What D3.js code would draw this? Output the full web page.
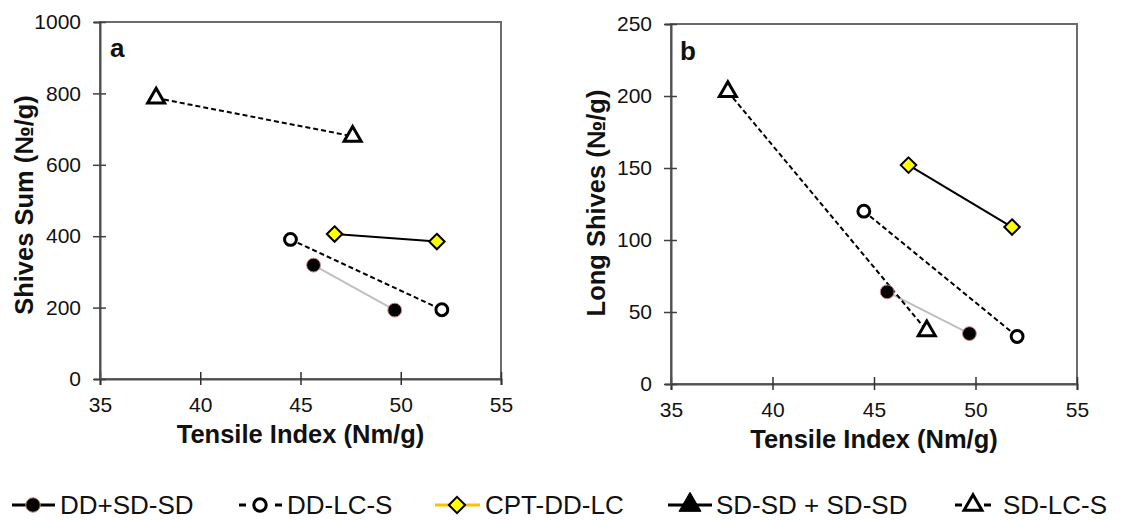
<!DOCTYPE html>
<html>
<head>
<meta charset="utf-8">
<script src="https://cdn.jsdelivr.net/npm/d3@7/dist/d3.min.js"></script>
<style>
  html, body { margin: 0; padding: 0; background: #fff; }
  svg { display: block; font-family: "Liberation Sans", Arial, sans-serif; }
</style>
</head>
<body>
<svg id="chart" width="1127" height="520"></svg>
<script>
// ---------- data ----------
const seriesNames = ["DD+SD-SD", "DD-LC-S", "CPT-DD-LC", "SD-SD + SD-SD", "SD-LC-S"];
const xTicks = [35, 40, 45, 50, 55];
const yTicksA = [0, 200, 400, 600, 800, 1000];
const yTicksB = [0, 50, 100, 150, 200, 250];

const tensileDDSD = [45.65, 49.7];
const tensileDDLCS = [44.5, 52.05];
const tensileCPT = [46.7, 51.8];
const tensileSDSD = [];
const tensileSDLCS = [37.8, 47.6];

const shivesSumDDSD = [319, 193];
const shivesSumDDLCS = [391, 194];
const shivesSumCPT = [406, 385];
const shivesSumSDSD = [];
const shivesSumSDLCS = [787, 680];

const longShivesDDSD = [64, 35];
const longShivesDDLCS = [120, 33];
const longShivesCPT = [152, 109];
const longShivesSDSD = [];
const longShivesSDLCS = [203, 37];

// ---------- styles ----------
const diamondSym = {
  draw(ctx, size) {
    const r = Math.sqrt(size / 2);
    ctx.moveTo(0, -r); ctx.lineTo(r, 0); ctx.lineTo(0, r); ctx.lineTo(-r, 0); ctx.closePath();
  }
};
const styles = [
  { line: "#bfbfbf", dash: null, sym: "circle", fill: "#000", stroke: "#c9837f", sw: 1, size: 150, legLine: "#000", legDash: false },
  { line: "#000", dash: "5,3", sym: "circle", fill: "#fff", stroke: "#000", sw: 3, size: 110, legLine: "#000", legDash: true },
  { line: "#000", dash: null, sym: "diamond", fill: "#ffff00", stroke: "#000", sw: 2, size: 120, legLine: "#ffc000", legDash: false },
  { line: "#000", dash: null, sym: "triangle", fill: "#000", stroke: "#000", sw: 1, size: 190, legLine: "#000", legDash: false },
  { line: "#000", dash: "5,3", sym: "triangle", fill: "#fff", stroke: "#000", sw: 3, size: 125, legLine: "#000", legDash: true }
];
const symMap = { circle: d3.symbolCircle, diamond: diamondSym, triangle: d3.symbolTriangle };

const svg = d3.select("#chart");
const FONT = "Liberation Sans, Arial, sans-serif";

function panel(cfg) {
  const { x0, x1, y0, y1, yMax, yTicks, ys, xs, letter, yTitle, letterPos, yTitleX, yTitleY } = cfg;
  const x = d3.scaleLinear().domain([35, 55]).range([x0, x1]);
  const y = d3.scaleLinear().domain([0, yMax]).range([y1, y0]);
  const g = svg.append("g");

  // frame
  g.append("rect").attr("x", x0).attr("y", y0).attr("width", x1 - x0).attr("height", y1 - y0)
    .attr("fill", "none").attr("stroke", "#6b6b6b").attr("stroke-width", 2);

  // x axis
  const xa = g.append("g").attr("transform", `translate(0,${y1})`)
    .call(d3.axisBottom(x).tickValues(xTicks).tickSize(6).tickFormat(d3.format("d")));
  xa.attr("font-family", FONT);
  xa.select(".domain").attr("stroke", "#505050").attr("stroke-width", 2);
  xa.selectAll(".tick line").attr("y1", -7).attr("y2", 6).attr("stroke", "#303030").attr("stroke-width", 1.5);
  xa.selectAll(".tick text").attr("font-size", 21).attr("fill", "#111").attr("y", 18).attr("dy", "0.71em");

  // y axis
  const ya = g.append("g").attr("transform", `translate(${x0},0)`)
    .call(d3.axisLeft(y).tickValues(yTicks).tickSize(6).tickFormat(d3.format("d")));
  ya.attr("font-family", FONT);
  ya.select(".domain").attr("stroke", "#505050").attr("stroke-width", 2);
  ya.selectAll(".tick line").attr("x1", -7).attr("x2", 6).attr("stroke", "#404040").attr("stroke-width", 1.5);
  ya.selectAll(".tick text").attr("font-size", 21).attr("fill", "#111").attr("x", -19);

  // titles
  g.append("text").attr("x", (x0 + x1) / 2).attr("y", y1 + 64).attr("text-anchor", "middle")
    .attr("font-size", 25.5).attr("font-weight", "bold").attr("fill", "#111").text("Tensile Index (Nm/g)");
  g.append("text").attr("transform", `translate(${yTitleX},${yTitleY}) rotate(-90)`)
    .attr("text-anchor", "middle").attr("font-size", 25.5).attr("font-weight", "bold").attr("fill", "#111").text(yTitle);
  g.append("text").attr("x", letterPos[0]).attr("y", letterPos[1]).attr("font-size", 26)
    .attr("font-weight", "bold").attr("fill", "#111").text(letter);

  // series
  const line = d3.line().x(d => x(d[0])).y(d => y(d[1]));
  seriesNames.forEach((name, i) => {
    const pts = xs[i].map((v, k) => [v, ys[i][k]]);
    if (!pts.length) return;
    const st = styles[i];
    g.append("path").datum(pts).attr("d", line).attr("fill", "none")
      .attr("stroke", st.line).attr("stroke-width", 2).attr("stroke-dasharray", st.dash);
  });
  seriesNames.forEach((name, i) => {
    const pts = xs[i].map((v, k) => [v, ys[i][k]]);
    const st = styles[i];
    g.selectAll(null).data(pts).enter().append("path")
      .attr("d", d3.symbol().type(symMap[st.sym]).size(st.size))
      .attr("transform", d => `translate(${x(d[0])},${y(d[1])})`)
      .attr("fill", st.fill).attr("stroke", st.stroke).attr("stroke-width", st.sw)
      .attr("stroke-linejoin", "miter");
  });
}

panel({
  x0: 100, x1: 501, y0: 22, y1: 379, yMax: 1000, yTicks: yTicksA,
  xs: [tensileDDSD, tensileDDLCS, tensileCPT, tensileSDSD, tensileSDLCS],
  ys: [shivesSumDDSD, shivesSumDDLCS, shivesSumCPT, shivesSumSDSD, shivesSumSDLCS],
  letter: "a", letterPos: [110, 57], yTitle: "Shives Sum (№/g)", yTitleX: 33, yTitleY: 205
});
panel({
  x0: 671, x1: 1077, y0: 24, y1: 384, yMax: 250, yTicks: yTicksB,
  xs: [tensileDDSD, tensileDDLCS, tensileCPT, tensileSDSD, tensileSDLCS],
  ys: [longShivesDDSD, longShivesDDLCS, longShivesCPT, longShivesSDSD, longShivesSDLCS],
  letter: "b", letterPos: [680, 60], yTitle: "Long Shives (№/g)", yTitleX: 605, yTitleY: 203
});

// ---------- legend ----------
const legendPos = [
  { l1: 12, l2: 55, m: 33, t: 60 },
  { l1: 239, l2: 282, m: 260, t: 287 },
  { l1: 435, l2: 480, m: 457, t: 485 },
  { l1: 668, l2: 712, m: 690, t: 716 },
  { l1: 955, l2: 991, m: 973, t: 1003 }
];
const legY = 505;
const leg = svg.append("g");
seriesNames.forEach((name, i) => {
  const p = legendPos[i], st = styles[i];
  if (st.legDash) {
    leg.append("line").attr("x1", p.l1).attr("x2", p.l1 + 7).attr("y1", legY).attr("y2", legY)
      .attr("stroke", st.legLine).attr("stroke-width", 3);
    leg.append("line").attr("x1", p.l2 - 7).attr("x2", p.l2).attr("y1", legY).attr("y2", legY)
      .attr("stroke", st.legLine).attr("stroke-width", 3);
  } else {
    leg.append("line").attr("x1", p.l1).attr("x2", p.l2).attr("y1", legY).attr("y2", legY)
      .attr("stroke", st.legLine).attr("stroke-width", 3);
  }
  leg.append("path").attr("d", d3.symbol().type(symMap[st.sym]).size(st.size * 1.1))
    .attr("transform", `translate(${p.m},${legY})`)
    .attr("fill", st.fill).attr("stroke", st.stroke).attr("stroke-width", st.sw);
  leg.append("text").attr("x", p.t).attr("y", legY).attr("dy", "0.35em").attr("font-size", 26)
    .attr("fill", "#111").text(name);
});
</script>
</body>
</html>
